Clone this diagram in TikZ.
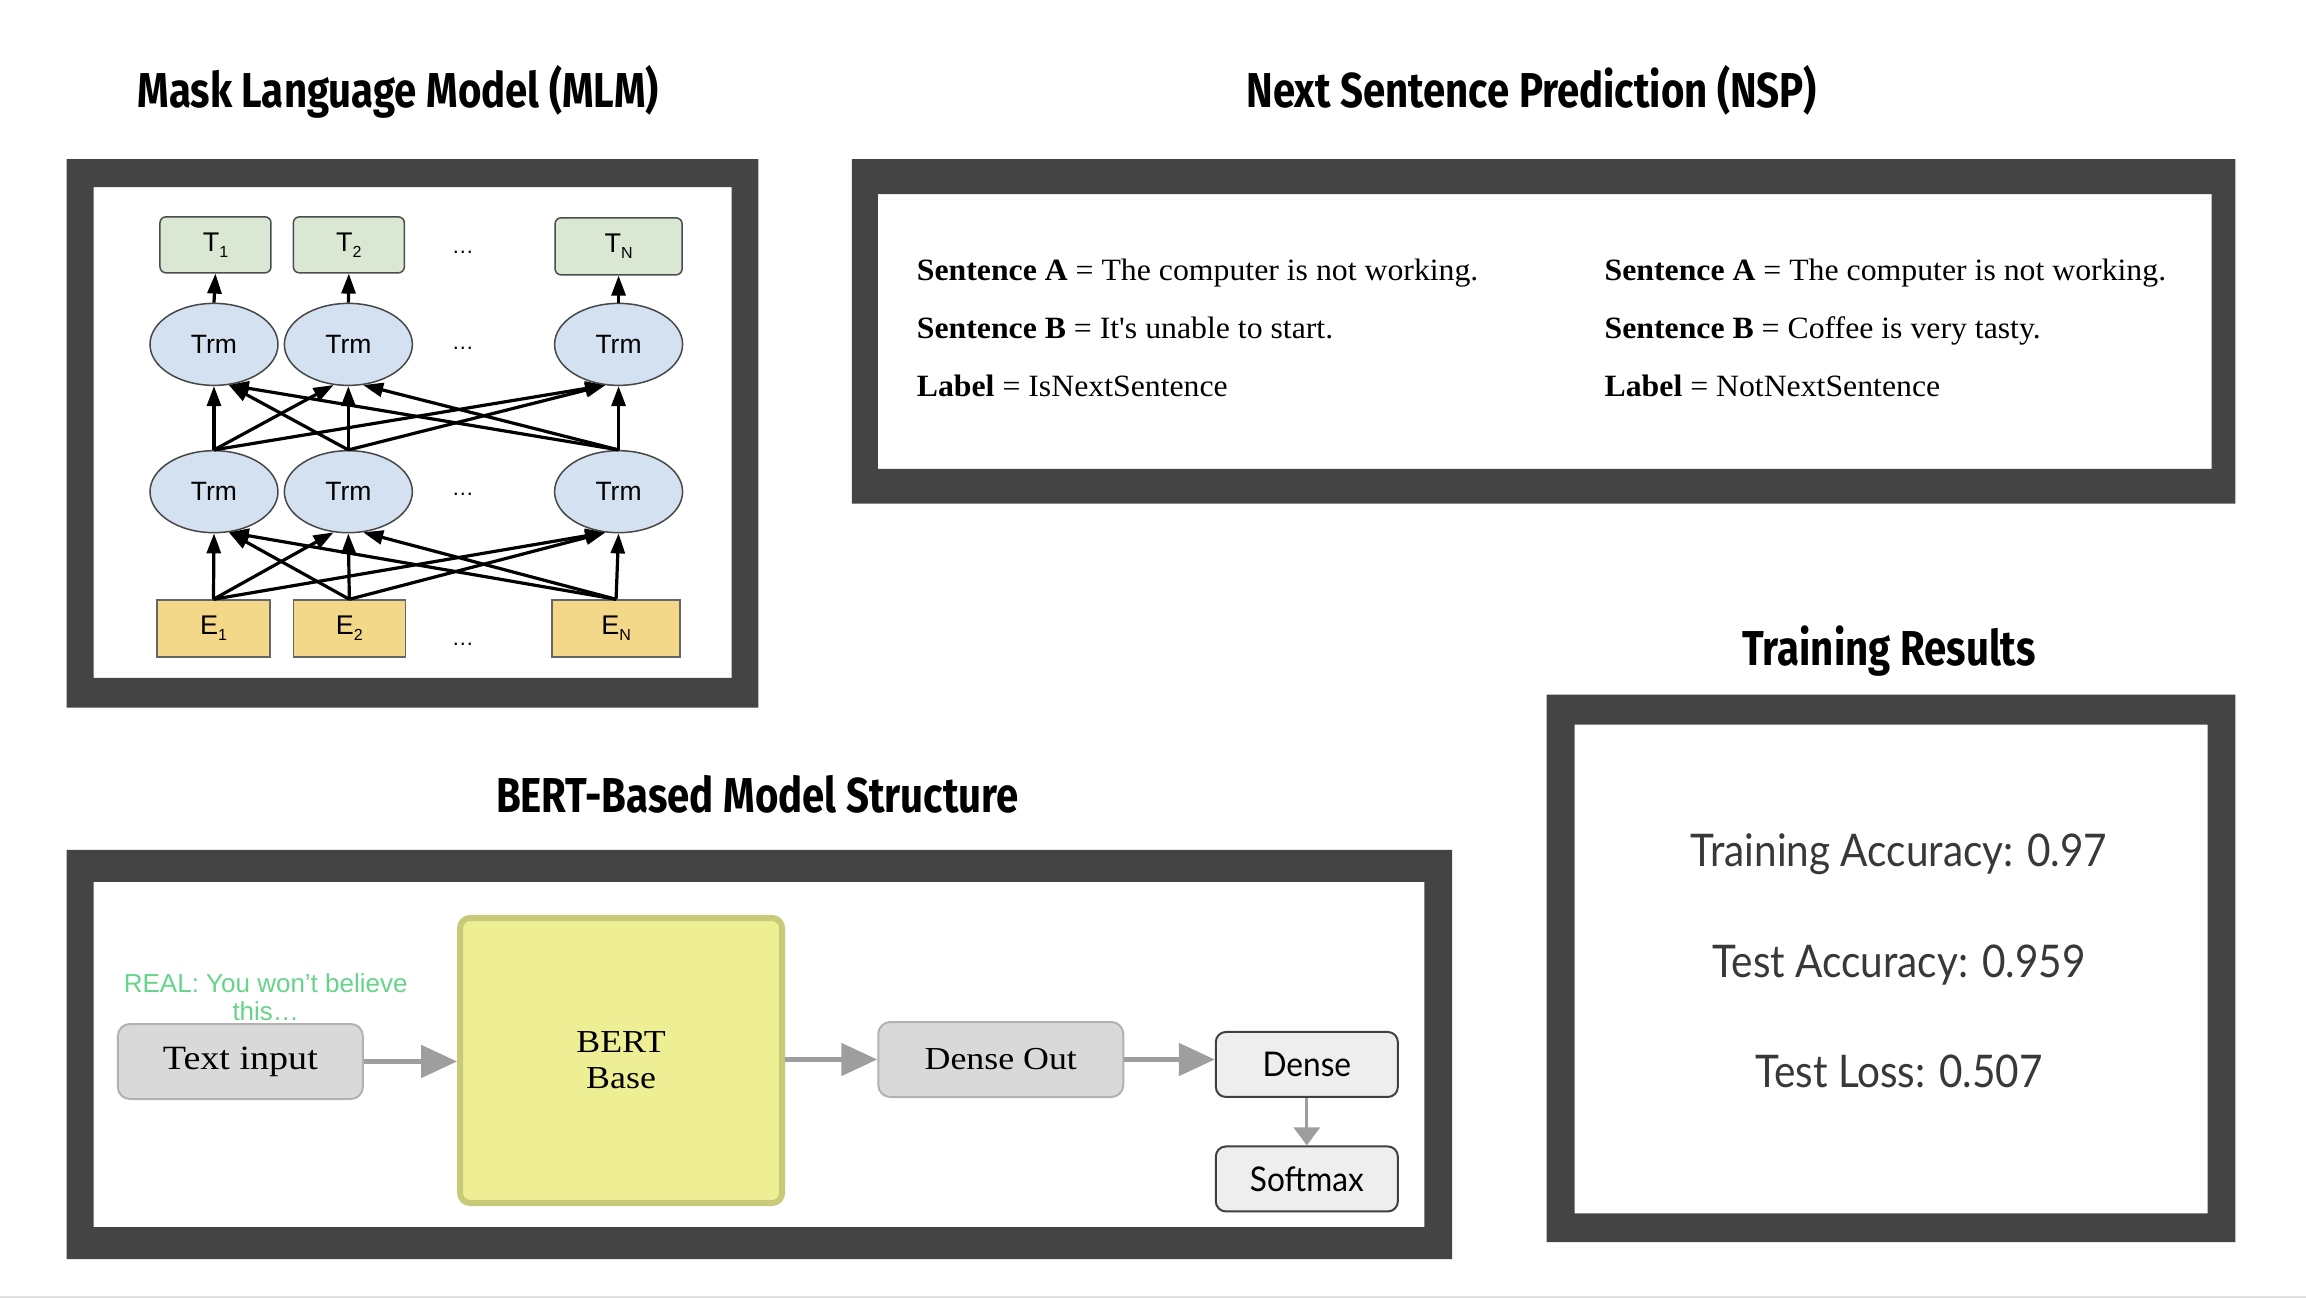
\documentclass[tikz,border=0pt]{standalone}
\usepackage{fontspec}
\setmainfont{Liberation Serif}
\newfontfamily\titlef{Fira Sans}[FakeStretch=0.82]
\newfontfamily\arialf{Liberation Sans}
\newfontfamily\nspf{Liberation Serif}[FakeStretch=1.025]
\newfontfamily\boxf{Liberation Serif}[FakeStretch=1.12]
\newfontfamily\resf{Lato}[FakeStretch=0.9]
\newfontfamily\lightf{Lato}[FakeStretch=0.93]
\usetikzlibrary{shapes.geometric,arrows.meta,calc}
\definecolor{framecol}{HTML}{444444}
\definecolor{tgreen}{HTML}{D9E7D3}
\definecolor{eyellow}{HTML}{F3D88A}
\definecolor{trmblue}{HTML}{D3E1F0}
\definecolor{boxgray}{HTML}{D9D9D9}
\definecolor{boxgrayline}{HTML}{B2B2B2}
\definecolor{bertfill}{HTML}{EEEE94}
\definecolor{bertline}{HTML}{C9C97A}
\definecolor{lightbox}{HTML}{EEEEEE}
\definecolor{arrowgray}{HTML}{9E9E9E}
\definecolor{realgreen}{HTML}{66D48A}
\definecolor{restext}{HTML}{383838}
\newcommand\mysub[1]{\raisebox{-6pt}{\fontsize{16}{16}\selectfont #1}}
\begin{document}
\begin{tikzpicture}[x=1pt,y=-1pt,
  titlestyle/.style={font=\titlef\bfseries\fontsize{49}{55}\selectfont, inner sep=0pt, anchor=base},
  framestyle/.style={fill=framecol, even odd rule},
  tbox/.style={draw=black!70, fill=tgreen, rounded corners=6pt, line width=1.5pt, inner sep=0pt,
     font=\arialf\fontsize{27}{27}\selectfont},
  ebox/.style={draw=black!60, fill=eyellow, line width=1.5pt, inner sep=0pt,
     font=\arialf\fontsize{27}{27}\selectfont},
  trm/.style={ellipse, draw=black!72, fill=trmblue, line width=1.5pt, inner sep=0pt,
     minimum width=128pt, minimum height=82pt, font=\arialf\fontsize{26.5}{27}\selectfont},
  dots/.style={font=\arialf\fontsize{22}{22}\selectfont, inner sep=0pt},
  blk/.style={line width=3.2pt, -{Triangle[length=20pt,width=14pt]}},
  nsp/.style={font=\nspf\fontsize{31}{36}\selectfont, inner sep=0pt, anchor=base west},
  res/.style={font=\resf\fontsize{45}{50}\selectfont, text=restext, inner sep=0pt, anchor=base},
  graybox/.style={draw=boxgrayline, fill=boxgray, rounded corners=12pt, line width=2pt, inner sep=0pt,
     font=\boxf\fontsize{32}{36}\selectfont},
  bertbox/.style={draw=bertline, fill=bertfill, rounded corners=10pt, line width=6pt, inner sep=0pt,
     font=\boxf\fontsize{32}{36}\selectfont, align=center},
  lbox/.style={draw=black!75, fill=lightbox, rounded corners=10pt, line width=2pt, inner sep=0pt,
     font=\lightf\fontsize{34}{38}\selectfont},
  garrow/.style={draw=arrowgray, line width=5pt, -{Triangle[length=36pt,width=32pt]}, color=arrowgray},
  garrowsmall/.style={draw=arrowgray, line width=3pt, -{Triangle[length=18pt,width=26pt]}, color=arrowgray}
]
\useasboundingbox (0,0) rectangle (2306,1300);
\fill[white] (0,0) rectangle (2306,1300);
\draw[line width=2pt, color=black!12] (0,1297) -- (2306,1297);

\begin{scope}[scale=0.9953]
% ---------- frames ----------
\fill[framestyle] (67,160) rectangle (762,711) (94,188) rectangle (735,681);
\fill[framestyle] (856,160) rectangle (2246,506) (882,195) rectangle (2222,471);
\fill[framestyle] (1554,698) rectangle (2246,1248) (1582,728) rectangle (2218,1219);
\fill[framestyle] (67,854) rectangle (1459,1265) (94,886) rectangle (1431,1233);

% ---------- titles ----------
\node[titlestyle] (ttlmlm) at (400,108) {Mask Language Model (MLM)};
\node[titlestyle] (ttlnsp) at (1539,108) {Next Sentence Prediction (NSP)};
\node[titlestyle] (ttlres) at (1898,669) {Training Results};
\node[titlestyle] (ttlbert) at (761,816) {BERT-Based Model Structure};

% ---------- MLM ----------
\node[tbox, minimum width=111pt, minimum height=56pt] (t1) at (216.5,246) {T\mysub{1}};
\node[tbox, minimum width=111pt, minimum height=56pt] (t2) at (350.5,246) {T\mysub{2}};
\node[tbox, minimum width=127pt, minimum height=57pt] (tn) at (621.5,247.5) {T\mysub{N}};

\node[trm] (a1) at (215,346) {Trm};
\node[trm] (a2) at (350,346) {Trm};
\node[trm] (a3) at (621.5,346) {Trm};
\node[trm] (b1) at (215,494) {Trm};
\node[trm] (b2) at (350,494) {Trm};
\node[trm] (b3) at (621.5,494) {Trm};

\node[ebox, minimum width=113pt, minimum height=57pt] (e1) at (214.5,631.5) {E\mysub{1}};
\node[ebox, minimum width=112pt, minimum height=57pt] (e2) at (351,631.5) {E\mysub{2}};
\node[ebox, minimum width=128pt, minimum height=57pt] (e3) at (619,631.5) {E\mysub{N}};

\node[dots] (d1) at (465,254) {…};
\node[dots] (d2) at (465,350) {…};
\node[dots] (d3) at (465,497) {…};
\node[dots] (d4) at (465,647) {…};

\draw[blk] (e1.north) -- (b1.south);
\draw[blk] (e1.north) -- (b2.250);
\draw[blk] (e1.north) -- (b3.252);
\draw[blk] (e2.north) -- (b1.290);
\draw[blk] (e2.north) -- (b2.south);
\draw[blk] (e2.north) -- (b3.252);
\draw[blk] (e3.north) -- (b1.290);
\draw[blk] (e3.north) -- (b2.290);
\draw[blk] (e3.north) -- (b3.south);

\draw[blk] (b1.north) -- (a1.south);
\draw[blk] (b1.north) -- (a2.250);
\draw[blk] (b1.north) -- (a3.252);
\draw[blk] (b2.north) -- (a1.290);
\draw[blk] (b2.north) -- (a2.south);
\draw[blk] (b2.north) -- (a3.252);
\draw[blk] (b3.north) -- (a1.290);
\draw[blk] (b3.north) -- (a2.290);
\draw[blk] (b3.north) -- (a3.south);

\draw[blk] (a1.north) -- (t1.south);
\draw[blk] (a2.north) -- (t2.south);
\draw[blk] (a3.north) -- (tn.south);

% ---------- NSP ----------
\node[nsp] (la1) at (921,282) {\textbf{Sentence A} = The computer is not working.};
\node[nsp] (la2) at (921,340) {\textbf{Sentence B} = It's unable to start.};
\node[nsp] (la3) at (921,398) {\textbf{Label} = IsNextSentence};
\node[nsp] (lb1) at (1612,282) {\textbf{Sentence A} = The computer is not working.};
\node[nsp] (lb2) at (1612,340) {\textbf{Sentence B} = Coffee is very tasty.};
\node[nsp] (lb3) at (1612,398) {\textbf{Label} = NotNextSentence};

% ---------- Training results ----------
\node[res] (r1) at (1908,871) {Training Accuracy: 0.97};
\node[res] (r2) at (1908,982) {Test Accuracy: 0.959};
\node[res] (r3) at (1908,1093) {Test Loss: 0.507};

% ---------- BERT structure ----------
\node[font=\arialf\fontsize{26}{28}\selectfont, text=realgreen, align=center, inner sep=0pt] (real) at (267,1002) {REAL: You won’t believe\\this…};
\node[graybox, font=\boxf\fontsize{34}{36}\selectfont, minimum width=245pt, minimum height=75pt] (txt) at (241.5,1066.5) {Text input};
\node[bertbox, minimum width=322pt, minimum height=285pt] (bert) at (624,1065.5) {BERT\\Base};
\node[graybox, minimum width=245pt, minimum height=75pt] (dout) at (1005.5,1064.5) {Dense Out};
\node[lbox, minimum width=182pt, minimum height=65pt] (dense) at (1313,1069.5) {Dense};
\node[lbox, minimum width=182pt, minimum height=65pt] (soft) at (1313,1184.5) {Softmax};

\draw[garrow] (txt.east) -- (txt.east -| bert.west);
\draw[garrow] (bert.east |- dout.west) -- (dout.west);
\draw[garrow] (dout.east) -- (dout.east -| dense.west);
\draw[garrowsmall] (dense.south) -- (soft.north);
\end{scope}
\end{tikzpicture}
\end{document}
